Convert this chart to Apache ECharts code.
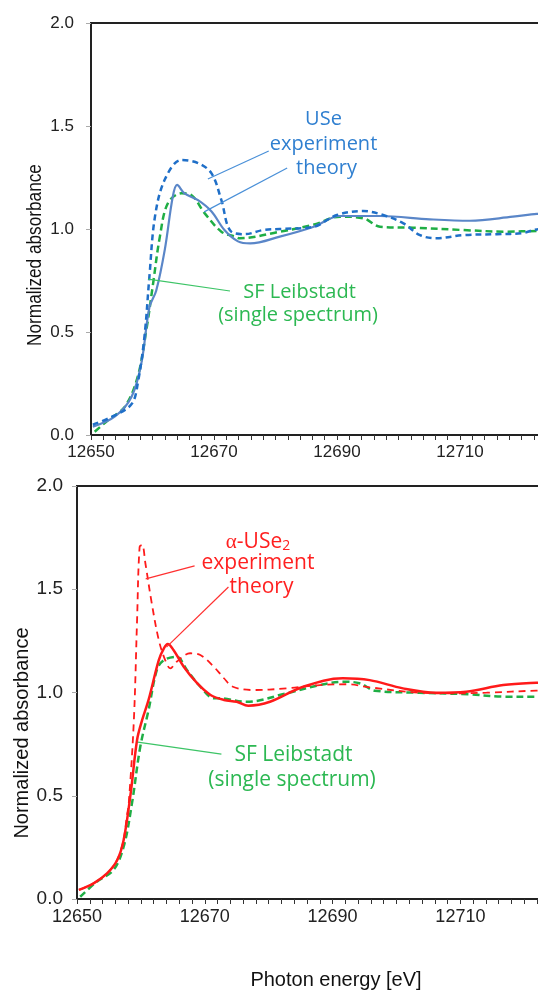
<!DOCTYPE html>
<html>
<head>
<meta charset="utf-8">
<script src="https://cdn.jsdelivr.net/npm/echarts@6/dist/echarts.min.js"></script>
<style>html,body{margin:0;padding:0;background:#fff;}#c{width:538px;height:990px;}</style>
</head>
<body>
<div id="c"></div>
<script>
// ---------- data (top panel: USe) ----------
const useExpE = [12650.3,12653.5,12656.6,12657.6,12658.7,12659.5,12660.4,12662.0,12664.7,12667.4,12669.6,12671.2,12672.7,12675.0,12678.0,12680.7,12686.1,12690.0,12694.3,12697.5,12700.8,12703.5,12706.2,12710.5,12716.0,12720.2,12722.5,12726];
const useExpV = [0.05,0.09,0.15,0.25,0.48,0.77,1.06,1.24,1.335,1.32,1.27,1.14,0.99,0.975,0.995,1.0,1.01,1.068,1.087,1.068,1.027,0.97,0.955,0.97,0.975,0.98,0.998,1.0];
const useThE = [12650.3,12653.9,12656.6,12658.2,12659.5,12660.6,12662.0,12663.3,12664.0,12665.2,12667.4,12669.6,12671.7,12673.9,12675.9,12680.7,12686.1,12690.5,12697.0,12705.1,12711.6,12718.6,12722.5,12726];
const useThV = [0.04,0.09,0.186,0.35,0.62,0.70,0.90,1.157,1.214,1.173,1.14,1.085,0.995,0.94,0.93,0.963,1.01,1.063,1.063,1.047,1.04,1.06,1.073,1.08];
const sfTopE = [12650.6,12652.8,12655.5,12657.6,12659.0,12660.1,12661.2,12662.5,12664.7,12666.3,12668.5,12671.2,12673.4,12674.2,12680.7,12686.1,12690.5,12694.3,12697.0,12702.4,12710.5,12717.6,12722.5,12726];
const sfTopV = [0.016,0.073,0.137,0.283,0.51,0.736,0.963,1.125,1.173,1.165,1.076,0.987,0.963,0.955,0.987,1.02,1.06,1.052,1.011,1.006,0.995,0.987,0.99,0.99];

// ---------- data (bottom panel: alpha-USe2) ----------
const use2ExpE = [12650.3,12652.6,12654.7,12656.3,12657.3,12657.8,12658.1,12658.9,12659.4,12659.8,12660.2,12660.7,12661.7,12662.8,12663.8,12664.6,12665.6,12667.7,12669.3,12671.4,12673.0,12674.4,12677.5,12682.8,12688.0,12692.2,12695.8,12703.6,12708.8,12714.1,12721.9,12726];
const use2ExpV = [0.044,0.076,0.124,0.19,0.29,0.40,0.463,0.867,1.35,1.706,1.714,1.626,1.432,1.254,1.157,1.117,1.149,1.19,1.182,1.125,1.069,1.028,1.012,1.02,1.036,1.04,1.025,0.999,0.996,0.999,1.009,1.01];
const use2ThE = [12650.3,12652.6,12654.7,12656.3,12657.3,12658.4,12659.4,12660.2,12661.2,12662.8,12663.6,12664.2,12665.1,12666.7,12668.8,12670.9,12673.0,12675.0,12676.8,12680.2,12685.4,12691.6,12695.8,12701.0,12706.2,12710.9,12716.7,12721.9,12726];
const use2ThV = [0.044,0.076,0.124,0.189,0.286,0.512,0.77,0.867,0.964,1.157,1.214,1.235,1.206,1.125,1.045,0.988,0.964,0.955,0.936,0.955,1.028,1.069,1.06,1.02,0.999,1.004,1.036,1.047,1.05];
const sfBotE = [12650.5,12653.1,12655.7,12657.3,12658.6,12659.9,12661.2,12662.5,12663.6,12665.6,12667.2,12669.3,12671.4,12672.3,12676.5,12682.8,12688.0,12691.6,12694.2,12696.6,12703.6,12711.4,12716.7,12721.9,12726];
const sfBotV = [0.011,0.084,0.14,0.253,0.463,0.737,0.915,1.109,1.157,1.173,1.109,1.028,0.972,0.972,0.955,0.996,1.036,1.052,1.045,1.009,0.999,0.991,0.98,0.98,0.98];

// ---------- ticks ----------
const xMin = 12650, xMax = 12730, xStep = 20;
const yMin = 0, yMax = 2.0, yStep = 0.5;

// leader line endpoints (in data coordinates)
const leadTopExp = [[12678.9,1.379],[12669.0,1.243]];
const leadTopTh = [[12681.9,1.296],[12668.4,1.083]];
const leadTopSF = [[12672.6,0.699],[12659.3,0.757]];
const leadBotExp = [[12668.4,1.613],[12660.75,1.55]];
const leadBotTh = [[12673.7,1.511],[12664.0,1.22]];
const leadBotSF = [[12672.6,0.702],[12659.5,0.76]];

const zip = (a,b) => a.map((v,i)=>[v,b[i]]);
const BLUE_D = '#1f6fc8', BLUE_S = '#5a86c8', GREEN = '#1fae45', RED = '#ff1a1a';
const TXT_BLUE = '#2f7fd0', TXT_GREEN = '#2cb852', TXT_RED = '#ff2020';
const numFont = '"Liberation Sans", Arial, sans-serif';
const axFont = '"Liberation Sans", Arial, sans-serif';
const annFont = '"Open Sans", "Noto Sans", sans-serif';

function lead(pts, color){
  return {silent:true, symbol:['none','none'], animation:false,
    label:{show:false}, lineStyle:{color:color, width:1.2, type:'solid'},
    data:[[{coord:pts[0]},{coord:pts[1]}]]};
}

function xAx(gi, fs, fam){
  return {type:'value', gridIndex:gi, min:xMin, max:xMax, interval:xStep,
    axisLine:{show:true, onZero:false, lineStyle:{color:'#222', width:2}},
    axisTick:{show:true, inside:false, length:5, lineStyle:{color:'#333'}},
    minorTick:{show:true, splitNumber:10, length:5, lineStyle:{color:'#333'}},
    splitLine:{show:false},
    axisLabel:{margin:9, color:'#222', fontSize:fs, fontFamily:fam, formatter:v=>String(v)}};
}
function yAx(gi, fs, margin){
  return {type:'value', gridIndex:gi, min:yMin, max:yMax, interval:yStep,
    axisLine:{show:true, lineStyle:{color:'#222', width:2}},
    axisTick:{show:true, inside:false, length:5, lineStyle:{color:'#aaa'}},
    splitLine:{show:false},
    axisLabel:{margin:margin, color:'#222', fontSize:fs, fontFamily:axFont, formatter:v=>v.toFixed(1)}};
}

const chart = echarts.init(document.getElementById('c'), null, {renderer:'canvas'});
chart.setOption({
  animation:false,
  backgroundColor:'#fff',
  grid:[
    {left:91, top:23, width:(xMax-xMin)*6.15, height:412, show:true, borderColor:'#222', borderWidth:2, containLabel:false, outerBoundsMode:'none'},
    {left:77, top:486, width:(xMax-xMin)*6.39, height:413, show:true, borderColor:'#222', borderWidth:2, containLabel:false, outerBoundsMode:'none'}
  ],
  xAxis:[xAx(0,17,numFont), xAx(1,18,axFont)],
  yAxis:[yAx(0,17,17), yAx(1,19,14)],
  series:[
    {type:'line', xAxisIndex:0, yAxisIndex:0, data:zip(sfTopE,sfTopV), showSymbol:false, smooth:0.35,
      lineStyle:{color:GREEN, width:2.5, type:[7,4]}, markLine:lead(leadTopSF,'#3cc466')},
    {type:'line', xAxisIndex:0, yAxisIndex:0, data:zip(useThE,useThV), showSymbol:false, smooth:0.35,
      lineStyle:{color:BLUE_S, width:2.2}, markLine:lead(leadTopTh,'#4a90d8')},
    {type:'line', xAxisIndex:0, yAxisIndex:0, data:zip(useExpE,useExpV), showSymbol:false, smooth:0.35,
      lineStyle:{color:BLUE_D, width:2.5, type:[6,4]}, markLine:lead(leadTopExp,'#4a90d8')},
    {type:'line', xAxisIndex:1, yAxisIndex:1, data:zip(sfBotE,sfBotV), showSymbol:false, smooth:0.35,
      lineStyle:{color:GREEN, width:2.5, type:[7,4]}, markLine:lead(leadBotSF,'#3cc466')},
    {type:'line', xAxisIndex:1, yAxisIndex:1, data:zip(use2ExpE,use2ExpV), showSymbol:false, smooth:0.35,
      lineStyle:{color:RED, width:1.8, type:[7,5]}, markLine:lead(leadBotExp,'#ff3030')},
    {type:'line', xAxisIndex:1, yAxisIndex:1, data:zip(use2ThE,use2ThV), showSymbol:false, smooth:0.35,
      lineStyle:{color:RED, width:2.5}, markLine:lead(leadBotTh,'#ff3030')}
  ],
  graphic:[
    {type:'text', x:35, y:255, rotation:Math.PI/2, scaleX:0.82, style:{text:'Normalized absorbance', font:'21px '+axFont, fill:'#111', textAlign:'center', textVerticalAlign:'middle'}},
    {type:'text', x:22, y:733, rotation:Math.PI/2, style:{text:'Normalized absorbance', font:'20px '+axFont, fill:'#111', textAlign:'center', textVerticalAlign:'middle'}},
    {type:'text', x:336, y:980, style:{text:'Photon energy [eV]', font:'20px '+axFont, fill:'#111', textAlign:'center', textVerticalAlign:'middle'}},
    {type:'text', x:323.5, y:119, style:{text:'USe', font:'20px '+annFont, fill:TXT_BLUE, textAlign:'center', textVerticalAlign:'middle'}},
    {type:'text', x:323.5, y:144, style:{text:'experiment', font:'20px '+annFont, fill:TXT_BLUE, textAlign:'center', textVerticalAlign:'middle'}},
    {type:'text', x:326.5, y:168, style:{text:'theory', font:'20px '+annFont, fill:TXT_BLUE, textAlign:'center', textVerticalAlign:'middle'}},
    {type:'text', x:299.5, y:292, style:{text:'SF Leibstadt', font:'20px '+annFont, fill:TXT_GREEN, textAlign:'center', textVerticalAlign:'middle'}},
    {type:'text', x:298, y:315, style:{text:'(single spectrum)', font:'20px '+annFont, fill:TXT_GREEN, textAlign:'center', textVerticalAlign:'middle'}},
    {type:'text', x:258, y:542, style:{text:'{a|α}{b|-USe}{s|2}', textAlign:'center', textVerticalAlign:'middle',
      rich:{a:{font:'21px "Liberation Serif", serif', fill:TXT_RED}, b:{font:'21px '+annFont, fill:TXT_RED}, s:{font:'14px '+annFont, fill:TXT_RED, padding:[8,0,0,0]}}}},
    {type:'text', x:258, y:563, style:{text:'experiment', font:'21px '+annFont, fill:TXT_RED, textAlign:'center', textVerticalAlign:'middle'}},
    {type:'text', x:261.5, y:587, style:{text:'theory', font:'21px '+annFont, fill:TXT_RED, textAlign:'center', textVerticalAlign:'middle'}},
    {type:'text', x:293.5, y:755, style:{text:'SF Leibstadt', font:'21px '+annFont, fill:TXT_GREEN, textAlign:'center', textVerticalAlign:'middle'}},
    {type:'text', x:292, y:780, style:{text:'(single spectrum)', font:'21px '+annFont, fill:TXT_GREEN, textAlign:'center', textVerticalAlign:'middle'}}
  ]
});
</script>
</body>
</html>
